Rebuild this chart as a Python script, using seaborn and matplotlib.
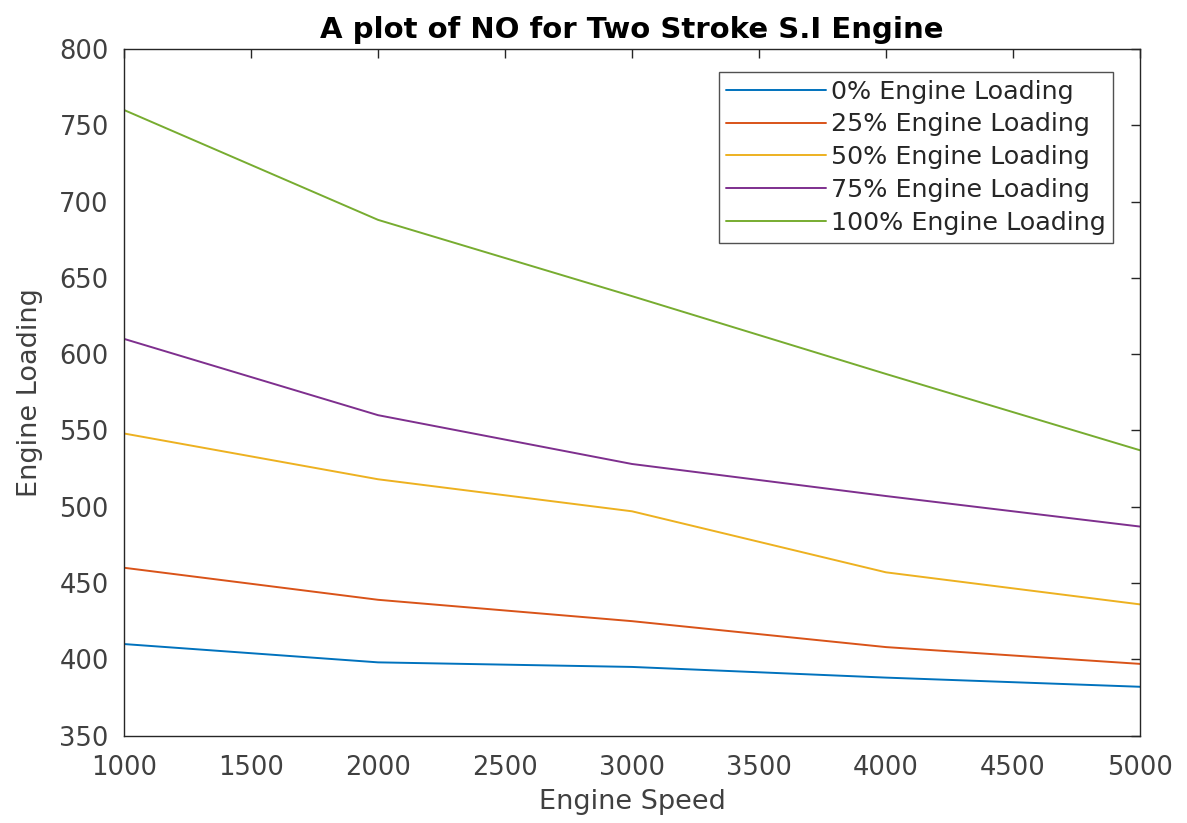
import numpy as np
import pandas as pd
import matplotlib
matplotlib.use("Agg")
import matplotlib.pyplot as plt
import seaborn as sns

speeds = [1000, 2000, 3000, 4000, 5000]
load_0 = [410, 398, 395, 388, 382]
load_25 = [460, 439, 425, 408, 397]
load_50 = [548, 518, 497, 457, 436]
load_75 = [610, 560, 528, 507, 487]
load_100 = [760, 688, 638, 587, 537]
series_names = ["0% Engine Loading", "25% Engine Loading", "50% Engine Loading",
                "75% Engine Loading", "100% Engine Loading"]
colors = ["#0072BD", "#D95319", "#EDB120", "#7E2F8E", "#77AC30"]
x_ticks = [1000, 1500, 2000, 2500, 3000, 3500, 4000, 4500, 5000]
y_ticks = [350, 400, 450, 500, 550, 600, 650, 700, 750, 800]

rows = []
for name, vals in zip(series_names, [load_0, load_25, load_50, load_75, load_100]):
    for s, v in zip(speeds, vals):
        rows.append({"Engine Speed": s, "Value": v, "Series": name})
df = pd.DataFrame(rows)

sns.set_style("white")
plt.rcParams['font.family'] = ['DejaVu Sans']

fig = plt.figure(figsize=(11.87, 8.23), dpi=100)
ax = fig.add_axes([0.1045, 0.1062, 0.8559, 0.8343])
sns.lineplot(data=df, x="Engine Speed", y="Value", hue="Series",
             hue_order=series_names, palette=colors, linewidth=1.4, ax=ax)

ax.set_xlim(1000, 5000)
ax.set_ylim(350, 800)
ax.set_xticks(x_ticks)
ax.set_yticks(y_ticks)
ax.tick_params(direction="in", length=6.5, width=1, colors="#262626",
               labelsize=18.5, top=True, right=True, labelcolor="#404040")
ax.tick_params(axis="x", pad=14)
ax.tick_params(axis="y", pad=11)
for sp in ax.spines.values():
    sp.set_color("#262626")
    sp.set_linewidth(1)
ax.set_xlabel("Engine Speed", fontsize=19.5, color="#404040", labelpad=6)
ax.set_ylabel("Engine Loading", fontsize=19.5, color="#404040", labelpad=12)
ax.set_title("A plot of NO for Two Stroke S.I Engine", fontsize=21,
             fontweight="bold", color="black", pad=8)

leg = ax.legend(loc="upper right", bbox_to_anchor=(0.9734, 0.9665), fontsize=18.3,
                frameon=True, fancybox=False, edgecolor="#262626",
                handlelength=3.9, handletextpad=0.2, borderpad=0.3,
                labelspacing=0.35, borderaxespad=0)
leg.get_frame().set_linewidth(1)
for t in leg.get_texts():
    t.set_color("#262626")
for line in leg.get_lines():
    line.set_linewidth(1.4)

fig.savefig("out.png", dpi=100)
